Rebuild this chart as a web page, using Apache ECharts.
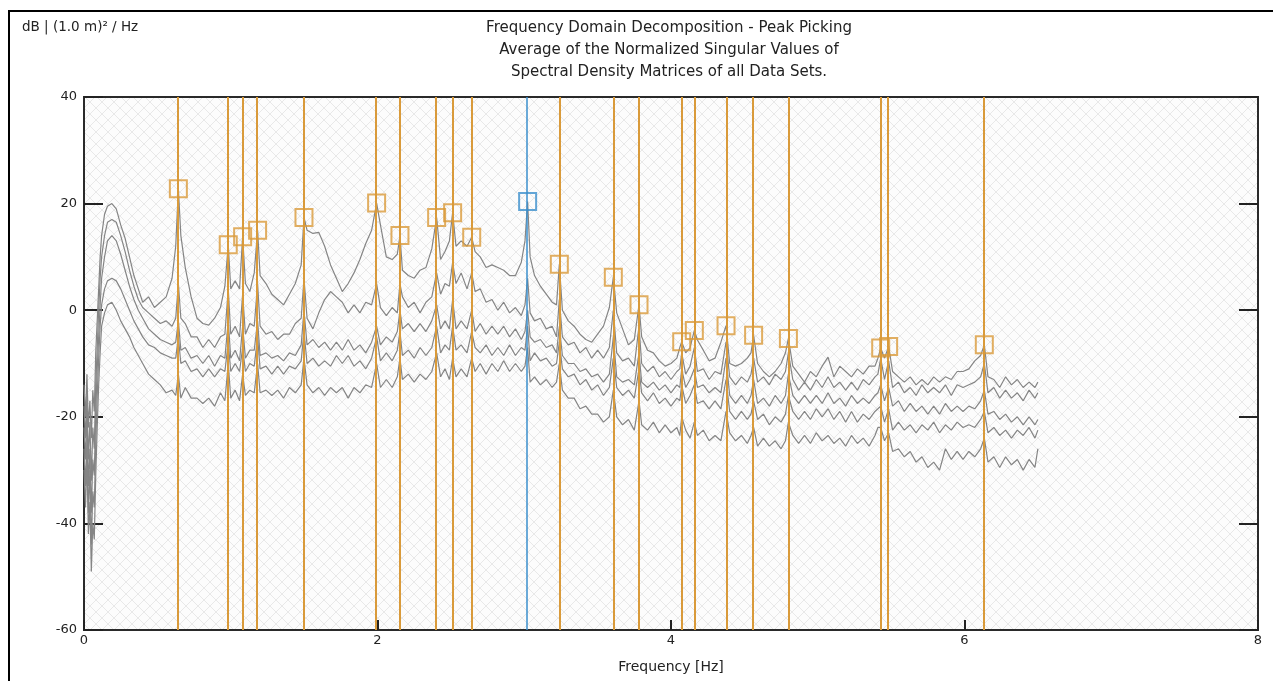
<!DOCTYPE html>
<html>
<head>
<meta charset="utf-8">
<script src="https://cdn.jsdelivr.net/npm/echarts@6/dist/echarts.min.js"></script>
<style>
  html, body { margin: 0; padding: 0; background: #fff; }
  #chart { width: 1273px; height: 681px; }
</style>
</head>
<body>
<div id="chart"></div>
<script>
/* ===== FDD peak picking chart ===== */

// frequency grid [Hz], rows line up with the value rows below
const FREQ = [
  0, 0.01, 0.02, 0.03, 0.04, 0.05, 0.06, 0.07, 0.08, 0.09, 0.10, 0.11, 0.12, 0.14, 0.16,
  0.19, 0.22, 0.25, 0.28, 0.31, 0.34, 0.37, 0.40, 0.44, 0.48, 0.52, 0.56, 0.60, 0.625,
  0.643, 0.66, 0.69, 0.73, 0.77, 0.81, 0.85, 0.89, 0.93, 0.96,
  0.983, 1.00, 1.03, 1.06, 1.081, 1.10, 1.13, 1.16,
  1.183, 1.20, 1.24, 1.28, 1.32, 1.36, 1.40, 1.44, 1.48,
  1.499, 1.52, 1.56, 1.60, 1.64, 1.68, 1.72, 1.76, 1.80, 1.84, 1.88, 1.92, 1.96,
  1.994, 2.02, 2.06, 2.10, 2.135, 2.153, 2.17, 2.21, 2.25, 2.29, 2.33, 2.37,
  2.403, 2.43, 2.46, 2.49, 2.512, 2.535, 2.57, 2.61,
  2.642, 2.665, 2.70, 2.74, 2.78, 2.82, 2.86, 2.90, 2.94, 2.98, 3.005,
  3.023, 3.04, 3.07, 3.11, 3.15, 3.19, 3.22,
  3.239, 3.26, 3.30, 3.34, 3.38, 3.42, 3.46, 3.50, 3.54, 3.58,
  3.607, 3.63, 3.67, 3.71, 3.75,
  3.782, 3.80, 3.84, 3.88, 3.92, 3.96, 4.00, 4.04, 4.06,
  4.073, 4.10, 4.13, 4.159, 4.18, 4.22, 4.26, 4.30, 4.34,
  4.375, 4.40, 4.44, 4.48, 4.52, 4.545, 4.563, 4.59, 4.63, 4.67, 4.71, 4.75, 4.78,
  4.80, 4.83, 4.87, 4.91, 4.95, 4.99, 5.03, 5.07, 5.11, 5.15, 5.19, 5.23, 5.27, 5.31, 5.35, 5.39, 5.41,
  5.429, 5.455, 5.483, 5.51, 5.55, 5.59, 5.63, 5.67, 5.71, 5.75, 5.79, 5.83, 5.87, 5.91, 5.95, 5.99,
  6.03, 6.07, 6.11, 6.135, 6.16, 6.20, 6.24, 6.28, 6.32, 6.36, 6.40, 6.44, 6.48, 6.50
];

// singular value curves [dB]
const SV1 = [
  -14, -20, -12, -22, -17, -24, -15, -19, -8, -2, 4, 10, 14, 18, 19.5,
  20, 19, 16, 13.5, 10, 6.5, 4, 1.5, 2.5, 0.5, 1.5, 2.5, 6, 12,
  22.8, 14, 8, 2.5, -1.5, -2.5, -2.8, -1.5, 0.5, 4.5,
  12.3, 4, 5.5, 4, 13.8, 5, 3.5, 7,
  15, 6.5, 5, 3, 2, 1, 3, 5, 8.5,
  17.4, 15, 14.4, 14.6, 12, 8.5, 6, 3.5, 5, 7, 9.5, 12.5, 15,
  20.1, 16, 10, 9.5, 10.5, 14, 7.5, 6.5, 6, 7.5, 8, 11.5,
  17.4, 9.5, 11, 13, 18.3, 12, 13, 12,
  13.7, 11, 10, 8, 8.5, 8, 7.5, 6.5, 6.5, 9, 13,
  20.4, 10, 6.5, 4.5, 3, 1.5, 1,
  8.6, 0, -2, -3, -4.5, -5.5, -6, -4.5, -3, 0.5,
  6.2, -0.5, -3.5, -6.5, -5.5,
  1, -5, -7.5, -8, -9.5, -10.5, -10, -9, -7,
  -5.9, -8, -7, -3.8, -5.6, -7.5, -9.5, -9, -6,
  -2.9, -10, -10.5, -10, -9, -8, -4.7, -10, -11.5, -12.5, -11.5, -10, -8,
  -5.3, -10.5, -12, -13.5, -11.5, -12.5, -10.5, -8.8, -12.5, -10.5, -11.5, -12.5, -11, -12, -10.5, -10.5, -9,
  -7.1, -9, -6.8, -11.5, -12.5, -13.5, -12.5, -14, -13, -14, -12.5, -13.5, -12.5, -13, -11.5, -11.5,
  -11, -9.5, -8.5, -6.5, -12.5, -13, -14.5, -12.5, -14, -13, -14.5, -13.5, -14.5, -13.5
];
const SV2 = [
  -18, -24, -16, -28, -21, -32, -22, -26, -14, -7, 0, 6, 10, 14, 16.5,
  17, 16.5, 14, 11, 7.5, 4.5, 2, 0.5, -0.5, -1.5, -2.5, -2, -3, -1.5,
  5, -1.5, -2.5, -5, -5, -7, -5.5, -7, -5, -4.5,
  4, -4.5, -3, -5, 3, -4.5, -2.5, -3,
  5, -3, -4.5, -4, -5.5, -4.5, -4.5, -2.5, -1.5,
  6, -1.5, -3.5, -0.5, 2, 3.5, 2.5, 1.5, -0.5, 1, -0.5, 1.5, 1,
  5, 0.5, -1, 0.5, -0.5, 5, 2.5, 0.5, 1.5, -0.5, 1.5, 2.5,
  7, 3, 5, 4.5, 9, 5, 7, 4,
  7, 3.5, 4, 1.5, 2, 0, 1.5, -0.5, 0.5, -1, 1,
  6, -0.5, -2, -1.5, -3.5, -3, -5,
  2, -5, -6.5, -6, -8, -7, -9, -7.5, -9, -7,
  0, -8, -9.5, -9, -10.5,
  -3, -10, -11.5, -10.5, -12.5, -11.5, -13, -11.5, -11,
  -8, -12, -10.5, -7, -11.5, -11, -13, -11.5, -12,
  -6, -12.5, -14, -12.5, -13.5, -12, -9, -13.5, -12.5, -14, -12, -13, -11.5,
  -8, -13, -15, -13.5, -15, -13, -14.5, -12.5, -14.5, -13.5, -15, -13.5, -15, -13, -14, -12.5, -12,
  -9, -13, -9.5, -14.5, -13.5, -15.5, -14.5, -16, -14, -15.5, -14.5, -15.5, -14, -16, -14, -14.5,
  -14, -13.5, -12.5, -10, -15.5, -14.5, -16.5, -15, -16.5, -15.5, -17, -15, -16.5, -15.5
];
const SV3 = [
  -22, -28, -19, -33, -26, -38, -28, -31, -19, -11, -5, 1, 6, 10, 13,
  14, 13, 10.5, 7.5, 4.5, 2, 0, -1.5, -3.5, -4.5, -5.5, -6, -6.5, -6,
  -2, -7.5, -7, -9, -8.5, -10, -8.5, -10.5, -8.5, -9,
  -2, -9, -7.5, -9.5, -3, -9, -7.5, -7.5,
  -2, -8.5, -8, -9, -8.5, -9.5, -8, -8.5, -6.5,
  0, -6.5, -5.5, -7, -6, -7.5, -6, -7.5, -5.5, -7.5, -6.5, -8, -6,
  -3, -6.5, -5, -6, -4, 0, -3.5, -2.5, -4, -2.5, -4, -2,
  1, -3.5, -2, -3.5, 2, -3.5, -2, -3.5,
  0, -4, -2.5, -4.5, -3, -4.5, -3, -5, -3.5, -5.5, -4,
  0, -5, -6, -5.5, -7, -6.5, -8,
  -3, -8.5, -10, -10, -11.5, -11, -12.5, -12, -13.5, -12,
  -5, -12.5, -13.5, -13, -14,
  -8, -13.5, -14.5, -13.5, -15, -14, -15.5, -14, -14.5,
  -11, -14.5, -13, -11, -14.5, -14, -15.5, -14.5, -15.5,
  -9, -16, -17.5, -16, -17.5, -16, -13, -17.5, -16.5, -18, -16, -17.5, -16,
  -12, -16, -17.5, -16, -17.5, -16, -17.5, -15.5, -17.5, -16.5, -18, -16, -17.5, -16.5, -17.5, -16, -15.5,
  -14, -17, -14.5, -18, -17, -19, -17.5, -19, -18, -19.5, -18, -19.5, -17.5, -19, -18, -19,
  -18, -18.5, -17, -15, -19.5, -19, -20.5, -19.5, -21, -20, -21.5, -20, -21.5, -20.5
];
const SV4 = [
  -26, -33, -24, -38, -30, -44, -34, -37, -25, -16, -9, -3, 1, 4, 5.5,
  6, 5.5, 4, 2, 0, -2, -3.5, -5, -6.5, -7, -8, -8.5, -9, -9,
  -5, -10, -9.5, -11.5, -11, -12.5, -11, -12.5, -11, -11.5,
  -6, -11.5, -10, -11.5, -7, -11.5, -10, -10.5,
  -5, -11, -10.5, -12, -10.5, -12, -10.5, -11, -9.5,
  -4, -10, -9, -10.5, -9.5, -10.5, -8.5, -10, -8.5, -10.5, -9.5, -11, -9,
  -5, -9.5, -8, -9.5, -7.5, -4, -8.5, -7.5, -9, -7, -8.5, -7,
  -3, -8, -6.5, -7.5, -3, -7.5, -6.5, -8,
  -4, -7, -8, -6.5, -8.5, -7, -8.5, -6.5, -8.5, -7, -7.5,
  -3, -9.5, -8, -9.5, -9, -10.5, -10,
  -6, -11, -12.5, -12, -14, -13, -15, -14, -16, -14.5,
  -9, -14.5, -16, -15, -16.5,
  -11, -15.5, -17, -15.5, -17.5, -16.5, -18, -16.5, -17,
  -14, -17.5, -16, -14, -17.5, -17, -18.5, -17, -18.5,
  -13, -19, -20.5, -19, -20.5, -19.5, -17, -20.5, -19.5, -21.5, -20, -21, -19.5,
  -16, -19, -20.5, -19, -20.5, -18.5, -20, -18.5, -20.5, -19, -21, -19, -21, -19.5, -20.5, -19, -18.5,
  -18, -21, -18.5, -22.5, -21, -22.5, -21.5, -23, -21.5, -22.5, -21, -23, -21.5, -22.5, -21, -22,
  -21.5, -22, -20.5, -19, -23, -22, -23.5, -22.5, -24, -22.5, -23.5, -22, -24, -22.5
];
const SV5 = [
  -30, -37, -28, -42, -36, -49, -40, -43, -31, -22, -14, -8, -3, -0.5, 1,
  1.5, 0, -2, -3.5, -5, -7, -8.5, -10, -12, -13, -14, -15.5, -15, -16,
  -12, -16.5, -14.5, -16.5, -16.5, -17.5, -16.5, -18, -15.5, -17,
  -10, -16.5, -15, -17, -12, -16, -15, -15.5,
  -10, -15.5, -15, -16, -15, -16.5, -14.5, -15.5, -14,
  -9, -14, -15.5, -14.5, -16, -14.5, -15.5, -14.5, -16.5, -14.5, -15.5, -14, -14.5,
  -10, -14.5, -13, -14.5, -12.5, -9, -13, -12, -13.5, -12, -13, -11.5,
  -8, -12.5, -11, -13, -9, -12.5, -11, -12.5,
  -9, -11.5, -10, -12, -10, -11.5, -9.5, -11.5, -10, -11.5, -10.5,
  -7, -13.5, -12.5, -14, -13, -14.5, -13.5,
  -10, -15, -16.5, -16.5, -18.5, -18, -19.5, -19.5, -21, -20,
  -15, -20, -21.5, -20.5, -22.5,
  -17, -21.5, -22.5, -21, -23, -21.5, -23, -22, -23.5,
  -20, -22.5, -24, -21, -23.5, -22.5, -24.5, -23.5, -24.5,
  -19, -23, -24.5, -23.5, -25, -23.5, -22, -25.5, -24, -25.5, -24.5, -26, -24.5,
  -21, -23.5, -25, -23.5, -25, -23, -24.5, -23.5, -25, -24, -25.5, -23.5, -25, -24, -25.5, -23.5, -22,
  -22, -24.5, -23, -26.5, -26, -27.5, -26.5, -28.5, -27.5, -29.5, -28.5, -30, -26, -28, -26.5, -28,
  -26.5, -27.5, -26, -24, -28.5, -27.5, -29.5, -27.5, -29, -28, -30, -28, -29.5, -26
];

// picked peaks [Hz] and their levels [dB]
const PEAK_FREQ = [0.643, 0.983, 1.081, 1.183, 1.499, 1.994, 2.153, 2.403, 2.512, 2.642,
  3.239, 3.607, 3.782, 4.073, 4.159, 4.375, 4.563, 4.80, 5.429, 5.483, 6.135];
const PEAK_DB = [22.8, 12.3, 13.8, 15.0, 17.4, 20.1, 14.0, 17.4, 18.3, 13.7,
  8.6, 6.2, 1.0, -5.9, -3.8, -2.9, -4.7, -5.3, -7.1, -6.8, -6.5];
// selected peak (blue)
const SEL_FREQ = 3.023;
const SEL_DB = 20.4;

const TITLE = "Frequency Domain Decomposition - Peak Picking\nAverage of the Normalized Singular Values of\nSpectral Density Matrices of all Data Sets.";
const Y_UNIT = "dB | (1.0 m)² / Hz";
const X_NAME = "Frequency [Hz]";

const ORANGE = "#d99a3a";
const BLUE = "#3b8fcc";
const GREY = "#858585";
const FONT = "DejaVu Sans, Verdana, sans-serif";

/* ---- hatch pattern for the plot area ---- */
function makeHatch() {
  const c = document.createElement("canvas");
  c.width = 12; c.height = 12;
  const g = c.getContext("2d");
  g.fillStyle = "#fcfcfc";
  g.fillRect(0, 0, 12, 12);
  g.strokeStyle = "#e8e8e8";
  g.lineWidth = 1;
  g.beginPath();
  g.moveTo(0, 0); g.lineTo(12, 12);
  g.moveTo(12, 0); g.lineTo(0, 12);
  g.stroke();
  return c;
}

const chart = echarts.init(document.getElementById("chart"), null, { renderer: "canvas" });

const curves = [SV1, SV2, SV3, SV4, SV5].map((vals, k) => ({
  name: "SV" + (k + 1),
  type: "line",
  data: vals.map((v, i) => [FREQ[i], v]),
  showSymbol: false,
  symbol: "none",
  lineStyle: { color: GREY, width: 1.2 },
  z: 3,
  animation: false
}));

chart.setOption({
  animation: false,
  backgroundColor: "#fff",
  grid: {
    left: 84, right: 15, top: 97, bottom: 51,
    show: true,
    backgroundColor: { image: makeHatch(), repeat: "repeat" },
    borderColor: "#2a2a2a", borderWidth: 2
  },
  title: {
    text: TITLE,
    left: 669, top: 17, padding: 0, textAlign: "center",
    textStyle: { fontFamily: FONT, fontSize: 15, fontWeight: "normal", color: "#222", lineHeight: 22 }
  },
  graphic: [
    { type: "rect", shape: { x: 9, y: 11, width: 1300, height: 700 },
      style: { fill: "none", stroke: "#000", lineWidth: 2 }, silent: true },
    { type: "text", left: 22, top: 20,
      style: { text: Y_UNIT, fontFamily: FONT, fontSize: 13.5, fill: "#222" } }
  ],
  xAxis: {
    type: "value", min: 0, max: 8, interval: 2,
    name: X_NAME, nameLocation: "middle", nameGap: 30,
    nameTextStyle: { fontFamily: FONT, fontSize: 14, color: "#222" },
    axisLine: { show: true, onZero: false, lineStyle: { color: "#2a2a2a", width: 2 } },
    axisTick: { show: true, inside: true, length: 10, lineStyle: { color: "#222", width: 2 } },
    axisLabel: { fontFamily: FONT, fontSize: 13, color: "#222", margin: 4 },
    splitLine: { show: false }
  },
  yAxis: [
    {
      type: "value", min: -60, max: 40, interval: 20,
      axisLine: { show: true, onZero: false, lineStyle: { color: "#2a2a2a", width: 2 } },
      axisTick: { show: true, inside: true, length: 19, lineStyle: { color: "#222", width: 2 } },
      axisLabel: { fontFamily: FONT, fontSize: 13, color: "#222", margin: 7 },
      splitLine: { show: false }
    },
    {
      type: "value", min: -60, max: 40, interval: 20, position: "right",
      axisLine: { show: true, onZero: false, lineStyle: { color: "#2a2a2a", width: 2 } },
      axisTick: { show: true, inside: true, length: 19, lineStyle: { color: "#222", width: 2 } },
      axisLabel: { show: false },
      splitLine: { show: false }
    }
  ],
  series: [
    {
      name: "picks",
      type: "line",
      data: [],
      z: 2,
      markLine: {
        silent: true,
        symbol: "none",
        label: { show: false },
        animation: false,
        data: PEAK_FREQ.map(f => ({ xAxis: f, lineStyle: { color: ORANGE, width: 2, type: "solid" } }))
          .concat([{ xAxis: SEL_FREQ, lineStyle: { color: BLUE, width: 1.5, type: "solid" } }])
      }
    },
    ...curves,
    {
      name: "peak boxes",
      type: "scatter",
      data: PEAK_FREQ.map((f, i) => [f, PEAK_DB[i]]),
      symbol: "rect",
      symbolSize: 17,
      itemStyle: { color: "rgba(0,0,0,0)", borderColor: ORANGE, borderWidth: 2 },
      z: 5
    },
    {
      name: "selected box",
      type: "scatter",
      data: [[SEL_FREQ, SEL_DB]],
      symbol: "rect",
      symbolSize: 17,
      itemStyle: { color: "rgba(0,0,0,0)", borderColor: BLUE, borderWidth: 2 },
      z: 5
    }
  ]
});
</script>
</body>
</html>
